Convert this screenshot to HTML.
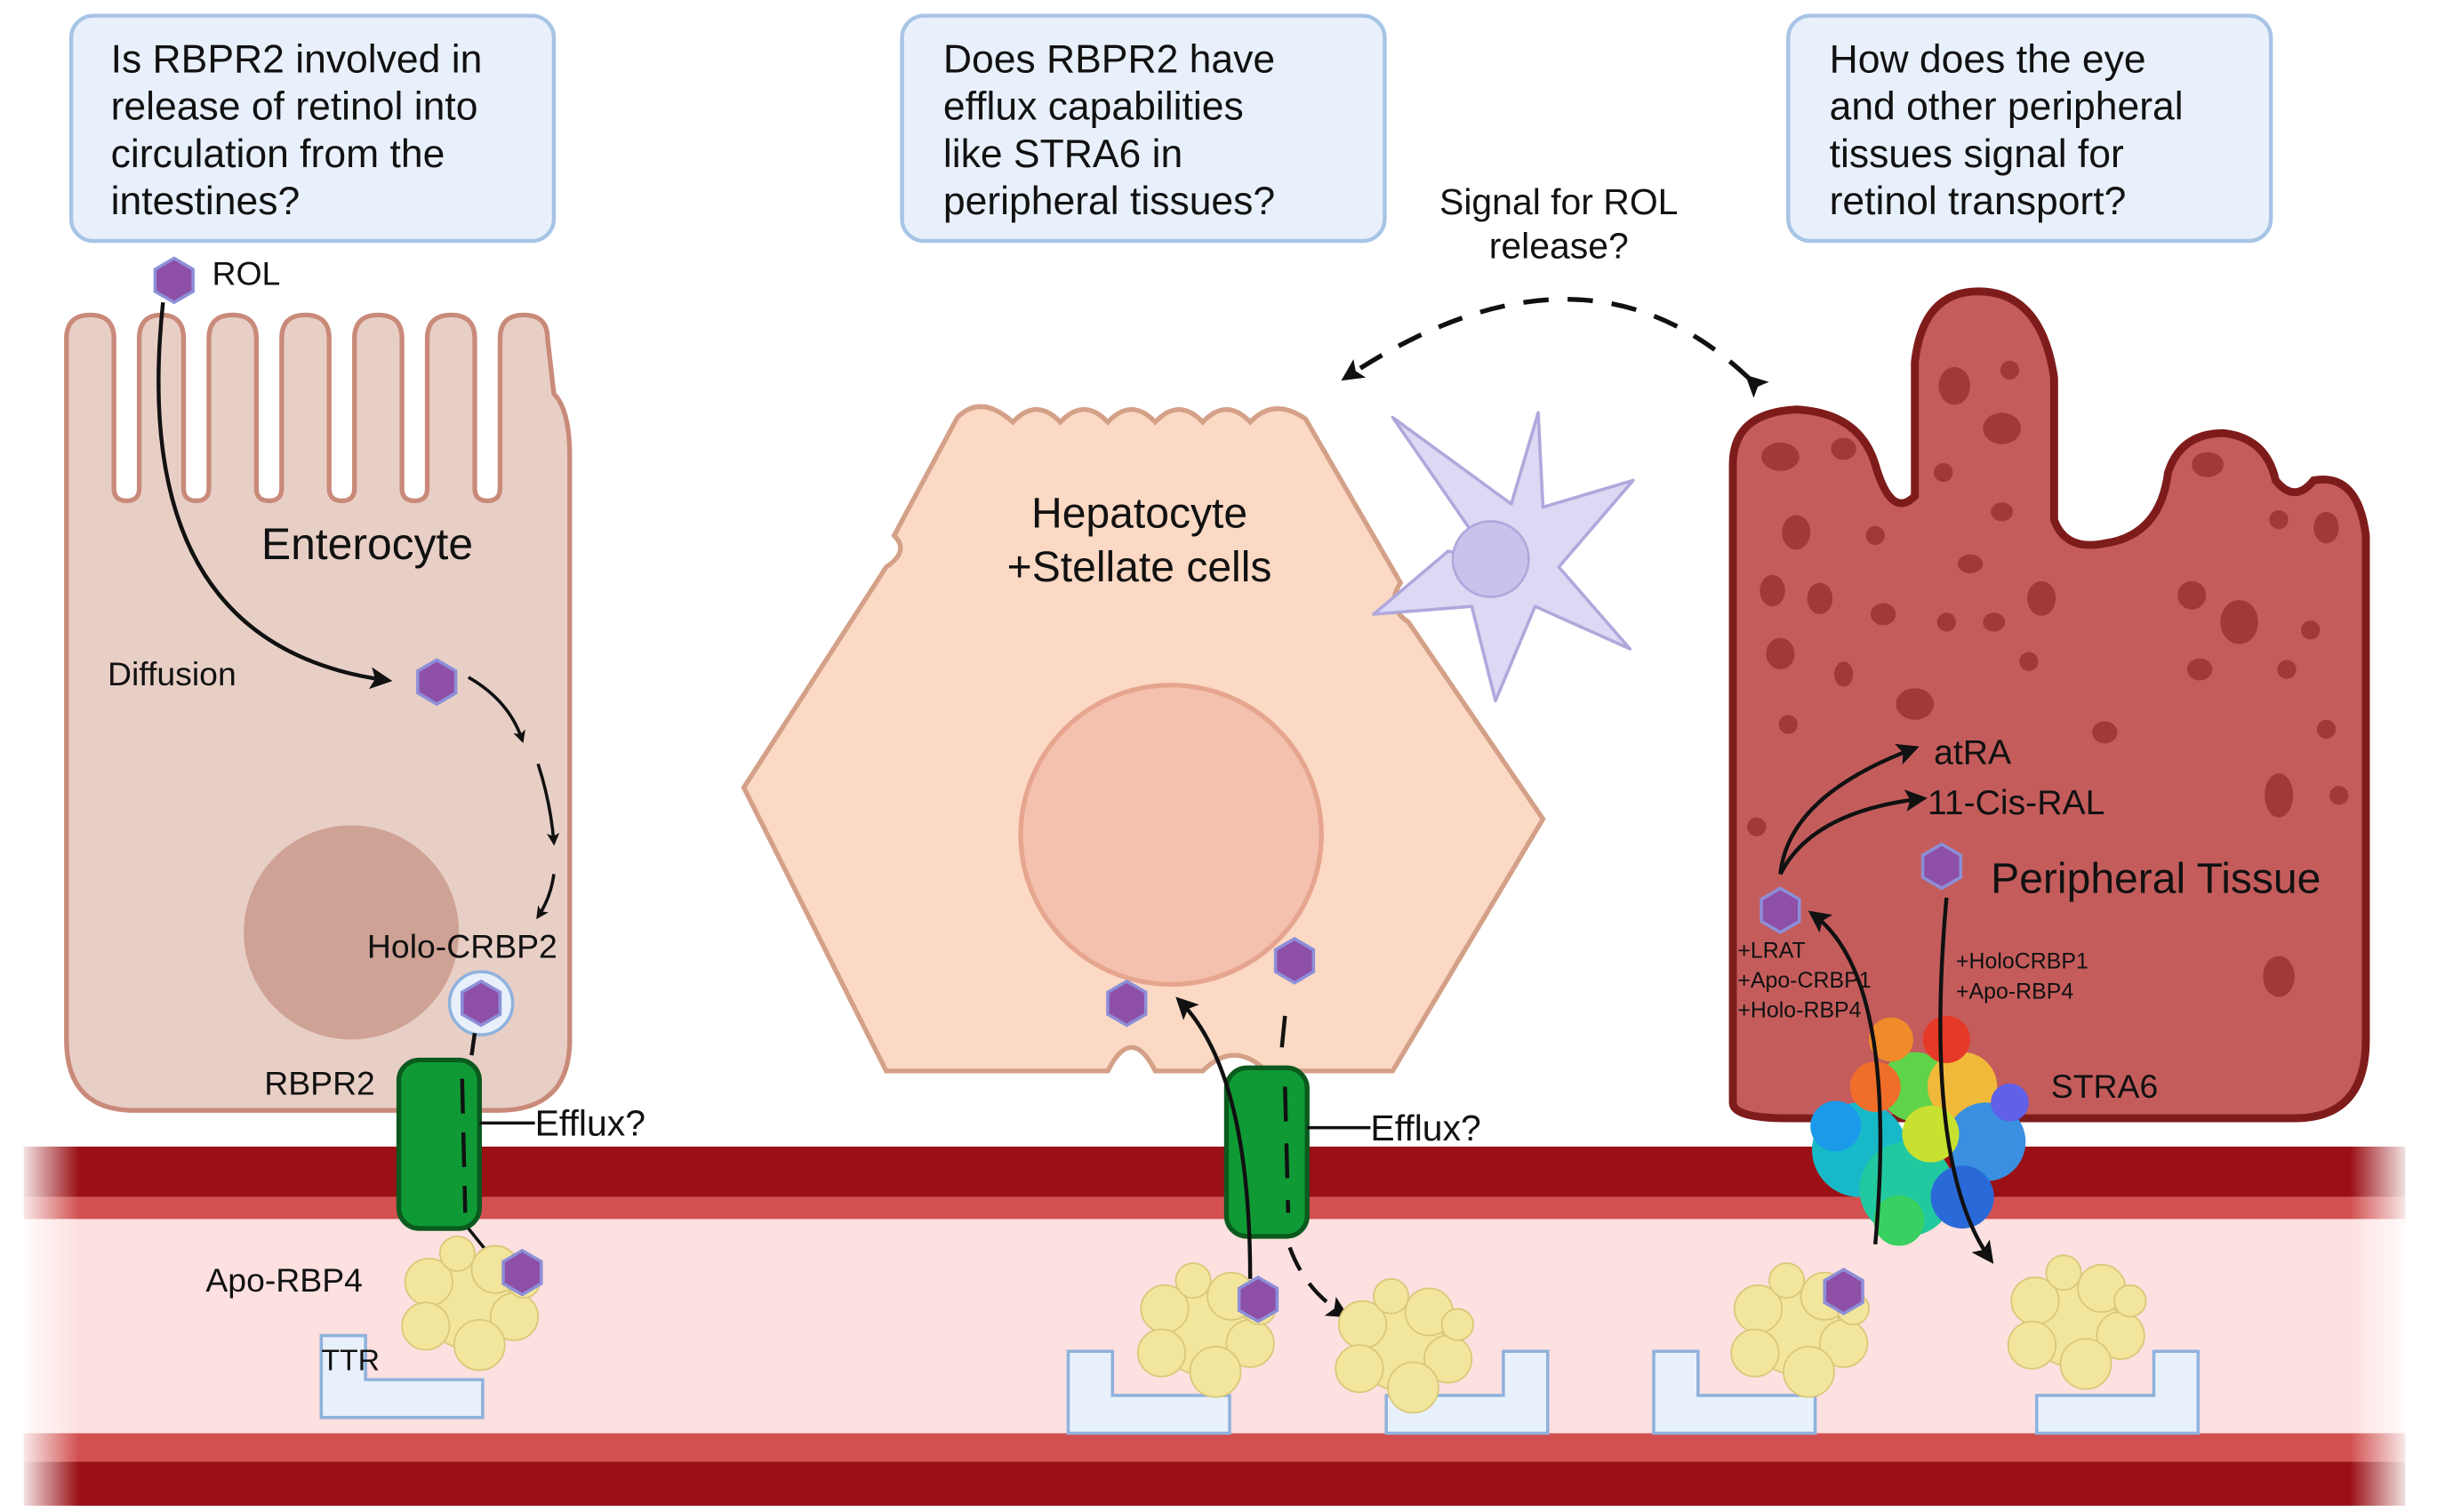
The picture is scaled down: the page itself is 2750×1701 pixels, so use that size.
<!DOCTYPE html>
<html><head><style>html,body{margin:0;padding:0;background:#fff}svg{display:block}text{font-family:"Liberation Sans",sans-serif;fill:#111}</style></head>
<body>
<svg width="2750" height="1701" viewBox="0 0 1545 960" preserveAspectRatio="none" xmlns="http://www.w3.org/2000/svg">
<defs>
<marker id="ah" markerWidth="8" markerHeight="8" refX="6" refY="4" orient="auto" markerUnits="userSpaceOnUse"><path d="M0,0 L8,4 L0,8 L2,4z" fill="#111"/></marker>
<marker id="ah2" markerWidth="14" markerHeight="14" refX="11" refY="7" orient="auto" markerUnits="userSpaceOnUse"><path d="M0,0 L14,7 L0,14 L3,7z" fill="#111"/></marker>
<linearGradient id="fl" x1="0" x2="1"><stop offset="0" stop-color="#fff" stop-opacity="1"/><stop offset="1" stop-color="#fff" stop-opacity="0"/></linearGradient>
<linearGradient id="fr" x1="1" x2="0"><stop offset="0" stop-color="#fff" stop-opacity="1"/><stop offset="1" stop-color="#fff" stop-opacity="0"/></linearGradient>
<g id="hex"><polygon points="0,-14 12,-7 12,7 0,14 -12,7 -12,-7" fill="#8e4fa6" stroke="#8c8fd8" stroke-width="2"/></g>
<g id="rbp"><g fill="#f2e59c" stroke="#d9c878" stroke-width="1"><circle cx="0" cy="0" r="28"/><circle cx="-24" cy="-14" r="15"/><circle cx="18" cy="-22" r="15"/><circle cx="30" cy="8" r="15"/><circle cx="-26" cy="14" r="15"/><circle cx="8" cy="26" r="16"/><circle cx="-6" cy="-32" r="11"/><circle cx="36" cy="-14" r="10"/></g></g>
<g id="ttr"><path d="M0,0 H28 V28 H102 V52 H0 Z" fill="#e8f1fb" stroke="#8fb2dd" stroke-width="2"/></g>
<g id="ttr2"><path d="M0,28 H74 V0 H102 V52 H0 Z" fill="#e8f1fb" stroke="#8fb2dd" stroke-width="2"/></g>
</defs>

<rect x="15" y="728" width="1505" height="32" fill="#9a1015"/>
<rect x="15" y="760" width="1505" height="14" fill="#d25050"/>
<rect x="15" y="774" width="1505" height="136" fill="#fde0e0"/>
<rect x="15" y="910" width="1505" height="18" fill="#d25050"/>
<rect x="15" y="928" width="1505" height="28" fill="#9a1015"/>
<rect x="10" y="725" width="40" height="235" fill="url(#fl)"/>
<rect x="1485" y="725" width="40" height="235" fill="url(#fr)"/>

<g fill="#e8f1fb" stroke="#a8c4e6" stroke-width="2.5">
<rect x="45" y="10" width="305" height="143" rx="14"/>
<rect x="570" y="10" width="305" height="143" rx="14"/>
<rect x="1130" y="10" width="305" height="143" rx="14"/>
</g>
<g font-size="25">
<text x="70" y="46">Is RBPR2 involved in</text><text x="70" y="76">release of retinol into</text><text x="70" y="106">circulation from the</text><text x="70" y="136">intestines?</text>
<text x="596" y="46">Does RBPR2 have</text><text x="596" y="76">efflux capabilities</text><text x="596" y="106">like STRA6 in</text><text x="596" y="136">peripheral tissues?</text>
<text x="1156" y="46">How does the eye</text><text x="1156" y="76">and other peripheral</text><text x="1156" y="106">tissues signal for</text><text x="1156" y="136">retinol transport?</text>
</g>
<text x="985" y="136" font-size="23" text-anchor="middle">Signal for ROL</text>
<text x="985" y="164" font-size="23" text-anchor="middle">release?</text>
<path d="M1105,240 Q1000,140 850,240" fill="none" stroke="#111" stroke-width="3" stroke-dasharray="16,12" marker-start="url(#ah2)" marker-end="url(#ah2)"/>

<path d="M42,215 Q42,200 57,200 Q72,200 72,215 V310 Q72,318 80,318 Q88,318 88,310 V215 Q88,200 102,200 Q116,200 116,215 V310 Q116,318 124,318 Q132,318 132,310 V215 Q132,200 147,200 Q162,200 162,215 V310 Q162,318 170,318 Q178,318 178,310 V215 Q178,200 193,200 Q208,200 208,215 V310 Q208,318 216,318 Q224,318 224,310 V215 Q224,200 239,200 Q254,200 254,215 V310 Q254,318 262,318 Q270,318 270,310 V215 Q270,200 285,200 Q300,200 300,215 V310 Q300,318 308,318 Q316,318 316,310 V215 Q316,200 331,200 Q346,200 346,215 L350,250 Q360,260 360,290 V660 Q360,705 315,705 H85 Q42,705 42,660 Z" fill="#e8cfc6" stroke="#c98a7a" stroke-width="3"/>
<circle cx="222" cy="592" r="68" fill="#cfa296"/>
<text x="232" y="355" font-size="28" text-anchor="middle">Enterocyte</text>
<text x="68" y="435" font-size="21">Diffusion</text>
<text x="232" y="608" font-size="21">Holo-CRBP2</text>
<text x="167" y="695" font-size="21">RBPR2</text>
<use href="#hex" x="110" y="178"/>
<text x="134" y="181" font-size="21">ROL</text>
<path d="M103,192 Q80,410 245,432" fill="none" stroke="#111" stroke-width="2.5" marker-end="url(#ah2)"/>
<use href="#hex" x="276" y="433"/>
<path d="M296,430 Q322,445 330,470" fill="none" stroke="#111" stroke-width="2" marker-end="url(#ah)"/>
<path d="M340,485 Q348,510 350,535" fill="none" stroke="#111" stroke-width="2" marker-end="url(#ah)"/>
<path d="M350,555 Q348,570 340,582" fill="none" stroke="#111" stroke-width="2" marker-end="url(#ah)"/>
<circle cx="304" cy="637" r="20" fill="#e8f1fb" stroke="#8fb2dd" stroke-width="2"/>
<use href="#hex" x="304" y="637"/>

<path d="M605,265 Q620,250 640,268 Q655,252 670,268 Q685,252 700,268 Q715,252 730,268 Q745,252 760,268 Q775,252 790,268 Q805,252 825,266 L885,370 Q875,385 890,395 L975,520 L880,680 H800 Q780,660 760,680 H730 Q715,650 700,680 L560,680 L470,500 L560,360 Q575,350 565,340 Z" fill="#fbd9c4" stroke="#d4a087" stroke-width="3"/>
<circle cx="740" cy="530" r="95" fill="#f3c1ae" stroke="#e6a58f" stroke-width="3"/>
<text x="720" y="335" font-size="27" text-anchor="middle">Hepatocyte</text>
<text x="720" y="369" font-size="27" text-anchor="middle">+Stellate cells</text>
<path d="M942,355 L880,265 L955,320 L972,262 L975,322 L1032,305 L985,360 L1030,412 L970,385 L945,445 L930,385 L868,390 L915,350 Z" fill="#ddd8f3" stroke="#b0a8dc" stroke-width="2" stroke-linejoin="round"/>
<circle cx="942" cy="355" r="24" fill="#c9c2ec" stroke="#b0a8dc" stroke-width="1.5"/>
<use href="#hex" x="712" y="637"/>
<use href="#hex" x="818" y="610"/>
<path d="M812,645 L810,665" stroke="#111" stroke-width="2.5"/>

<path d="M1095,700 V295 Q1095,262 1135,260 Q1175,262 1185,295 Q1195,330 1210,315 V230 Q1215,185 1250,185 Q1290,185 1298,240 V330 Q1305,350 1330,345 Q1365,340 1370,300 Q1378,275 1405,275 Q1432,278 1438,305 Q1450,320 1462,305 Q1490,300 1495,340 V660 Q1495,710 1450,710 H1130 Q1095,710 1095,700 Z" fill="#c45c5c" stroke="#7e1c1c" stroke-width="5"/>
<g fill="#a03a3a">
<ellipse cx="1125" cy="290" rx="12" ry="9"/><ellipse cx="1165" cy="285" rx="8" ry="7"/><ellipse cx="1235" cy="245" rx="10" ry="12"/><ellipse cx="1265" cy="272" rx="12" ry="10"/><ellipse cx="1228" cy="300" rx="6" ry="6"/><ellipse cx="1270" cy="235" rx="6" ry="6"/>
<ellipse cx="1135" cy="338" rx="9" ry="11"/><ellipse cx="1120" cy="375" rx="8" ry="10"/><ellipse cx="1150" cy="380" rx="8" ry="10"/><ellipse cx="1190" cy="390" rx="8" ry="7"/><ellipse cx="1185" cy="340" rx="6" ry="6"/><ellipse cx="1245" cy="358" rx="8" ry="6"/><ellipse cx="1265" cy="325" rx="7" ry="6"/>
<ellipse cx="1230" cy="395" rx="6" ry="6"/><ellipse cx="1260" cy="395" rx="7" ry="6"/><ellipse cx="1290" cy="380" rx="9" ry="11"/><ellipse cx="1282" cy="420" rx="6" ry="6"/><ellipse cx="1125" cy="415" rx="9" ry="10"/><ellipse cx="1165" cy="428" rx="6" ry="8"/><ellipse cx="1210" cy="447" rx="12" ry="10"/>
<ellipse cx="1395" cy="295" rx="10" ry="8"/><ellipse cx="1440" cy="330" rx="6" ry="6"/><ellipse cx="1470" cy="335" rx="8" ry="10"/><ellipse cx="1385" cy="378" rx="9" ry="9"/><ellipse cx="1415" cy="395" rx="12" ry="14"/><ellipse cx="1460" cy="400" rx="6" ry="6"/><ellipse cx="1390" cy="425" rx="8" ry="7"/><ellipse cx="1445" cy="425" rx="6" ry="6"/><ellipse cx="1470" cy="463" rx="6" ry="6"/><ellipse cx="1330" cy="465" rx="8" ry="7"/><ellipse cx="1130" cy="460" rx="6" ry="6"/><ellipse cx="1110" cy="525" rx="6" ry="6"/><ellipse cx="1440" cy="505" rx="9" ry="14"/><ellipse cx="1440" cy="620" rx="10" ry="13"/><ellipse cx="1478" cy="505" rx="6" ry="6"/>
</g>
<text x="1222" y="485" font-size="22">atRA</text>
<text x="1218" y="517" font-size="22">11-Cis-RAL</text>
<text x="1258" y="567" font-size="27">Peripheral Tissue</text>
<text x="1296" y="697" font-size="21">STRA6</text>
<g font-size="14"><text x="1098" y="608">+LRAT</text><text x="1098" y="627">+Apo-CRBP1</text><text x="1098" y="646">+Holo-RBP4</text>
<text x="1236" y="615">+HoloCRBP1</text><text x="1236" y="634">+Apo-RBP4</text></g>
<path d="M1125,555 Q1130,505 1210,475" fill="none" stroke="#111" stroke-width="2.5" marker-end="url(#ah2)"/>
<path d="M1125,555 Q1145,515 1215,507" fill="none" stroke="#111" stroke-width="2.5" marker-end="url(#ah2)"/>
<use href="#hex" x="1125" y="578"/>
<use href="#hex" x="1227" y="550"/>
<g>
<circle cx="1175" cy="730" r="30" fill="#17b9c9"/><circle cx="1205" cy="755" r="30" fill="#22c9a0"/><circle cx="1210" cy="690" r="22" fill="#5fd34a"/><circle cx="1240" cy="690" r="22" fill="#f0b93a"/><circle cx="1255" cy="725" r="25" fill="#3a8fe0"/><circle cx="1185" cy="690" r="16" fill="#ef6e2a"/><circle cx="1230" cy="660" r="15" fill="#e63a28"/><circle cx="1160" cy="715" r="16" fill="#1a9ae8"/><circle cx="1220" cy="720" r="18" fill="#c8e030"/><circle cx="1240" cy="760" r="20" fill="#2a6ad8"/><circle cx="1200" cy="775" r="16" fill="#38d060"/><circle cx="1195" cy="660" r="14" fill="#ef8b2a"/><circle cx="1270" cy="700" r="12" fill="#6060e8"/>
</g>
<path d="M1185,790 Q1200,620 1145,580" fill="none" stroke="#111" stroke-width="2.5" marker-end="url(#ah2)"/>
<path d="M1230,570 Q1215,740 1258,800" fill="none" stroke="#111" stroke-width="2.5" marker-end="url(#ah2)"/>

<rect x="252" y="673" width="51" height="107" rx="13" fill="#0f9a35" stroke="#0a5a1e" stroke-width="3"/>
<path d="M292,685 L294,770" stroke="#111" stroke-width="2.5" stroke-dasharray="22,12"/>
<path d="M300,656 L298,670" stroke="#111" stroke-width="2.5"/>
<path d="M303,713 H338" stroke="#111" stroke-width="2"/>
<text x="338" y="721" font-size="23">Efflux?</text>
<path d="M296,780 L312,800" stroke="#111" stroke-width="2" marker-end="url(#ah)"/>

<rect x="775" y="678" width="51" height="107" rx="13" fill="#0f9a35" stroke="#0a5a1e" stroke-width="3"/>
<path d="M812,690 L814,770" stroke="#111" stroke-width="2.5" stroke-dasharray="22,14"/>
<path d="M826,716 H866" stroke="#111" stroke-width="2"/>
<text x="866" y="724" font-size="23">Efflux?</text>
<path d="M790,812 Q790,680 745,635" fill="none" stroke="#111" stroke-width="2.5" marker-end="url(#ah2)"/>
<path d="M815,792 Q825,820 850,835" fill="none" stroke="#111" stroke-width="2.5" stroke-dasharray="16,10" marker-end="url(#ah2)"/>

<use href="#ttr" x="203" y="848"/>
<use href="#rbp" x="295" y="828"/>
<use href="#hex" x="330" y="808"/>
<text x="130" y="820" font-size="21">Apo-RBP4</text>
<text x="203" y="870" font-size="19">TTR</text>

<use href="#ttr" x="675" y="858"/>
<use href="#rbp" x="760" y="845"/>
<use href="#hex" x="795" y="825"/>
<use href="#ttr2" x="876" y="858"/>
<use href="#rbp" x="885" y="855"/>

<use href="#ttr" x="1045" y="858"/>
<use href="#rbp" x="1135" y="845"/>
<use href="#hex" x="1165" y="820"/>
<use href="#ttr2" x="1287" y="858"/>
<use href="#rbp" x="1310" y="840"/>
</svg>
</body></html>
